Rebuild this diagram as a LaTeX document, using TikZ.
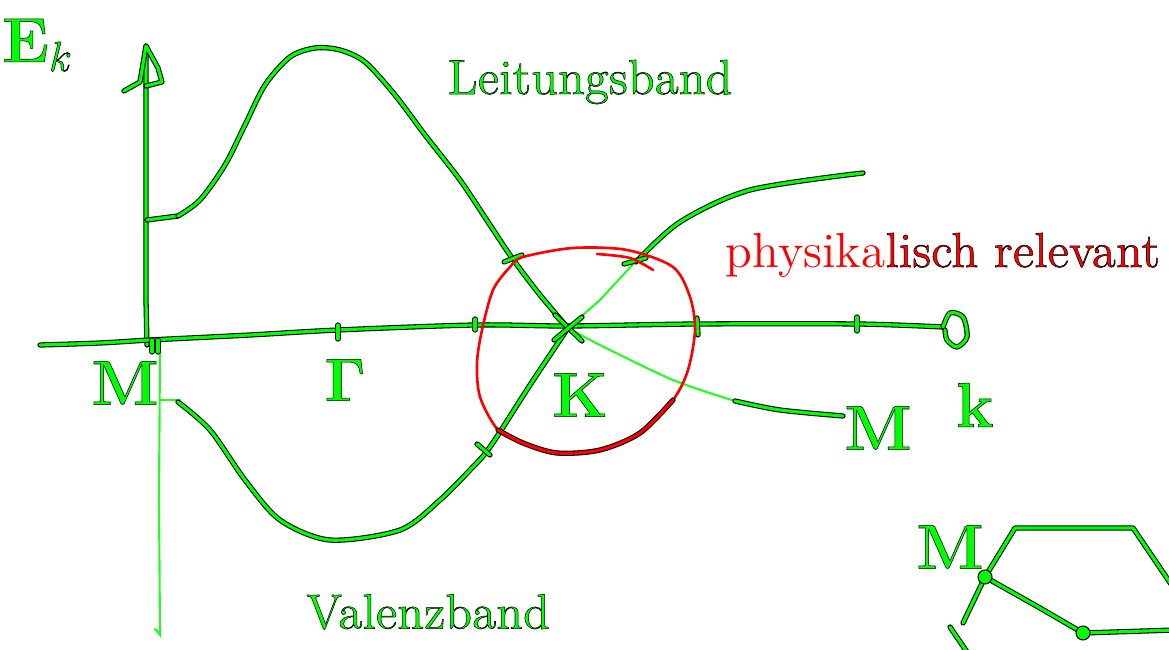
\documentclass[tikz,border=0pt]{standalone}

\definecolor{pen}{RGB}{0,255,0}
\definecolor{thinpen}{RGB}{40,250,40}
\definecolor{redpen}{RGB}{255,0,0}

% text with a black rim, as the pen draws it
\newcommand{\hand}[1]{\special{pdf:code 2 Tr 0 G 0.15 w}#1\special{pdf:code 0 Tr}}

\tikzset{
  band/.style={draw=black, double=pen, line width=0.3pt, double distance=0.9pt, line cap=round, line join=round},
  redband/.style={draw=black, double=redpen, line width=0.3pt, double distance=0.9pt, line cap=round},
  thinline/.style={draw=thinpen, line width=0.6pt, line cap=round},
  redline/.style={draw=redpen, line width=0.75pt, line cap=round},
  greenlabel/.style={text=pen, font=\bfseries\fontsize{18}{20}\selectfont, inner sep=0pt},
  wordlabel/.style={text=pen, font=\fontsize{14}{16}\selectfont, inner sep=0pt}
}

\begin{document}
\begin{tikzpicture}[x=0.1mm, y=-0.1mm]
  \useasboundingbox (0,0) rectangle (1169,650);

  \coordinate (kpt) at (568,328);

  % axes
  \draw[band] (147,345) -- (146,300) -- (146,46);
  \draw[band] (124,91) -- (140,82) -- (146,46) -- (158,68) -- (162,82) -- (146,86);
  \draw[band] plot[smooth] coordinates {(40,345) (100,343) (150,340) (250,335) (338,330)
    (475,325) (568,326) (697,324) (857,324) (943,327)};
  \draw[band] plot[smooth] coordinates {(943,327) (950,313) (963,317) (967,337) (957,347) (947,340) (945,330)};
  \draw[thinline] (160,345) -- (159,500) -- (160,635) -- (155,629);

  % ticks
  \draw[band] (152,340) -- (152,352);
  \draw[band] (158,340) -- (158,352);
  \draw[band] (338,325) -- (338,339);
  \draw[band] (475,319) -- (475,330);
  \draw[band] (697,318) -- (698,335);
  \draw[band] (857,317) -- (857,331);

  % Leitungsband
  \draw[band] (147,220) -- (178,216);
  \draw[band] plot[smooth] coordinates {(178,216) (200,200) (225,165) (245,125) (265,85)
    (290,57) (315,48) (340,50) (365,62) (395,95) (425,135) (460,180) (490,225) (512,258)
    (540,295) (kpt)};
  \draw[thinline] (kpt) -- (600,300) -- (635,262);
  \draw[band] plot[smooth] coordinates {(636,262) (680,222) (750,190) (863,173)};

  % Valenzband
  \draw[thinline] (160,400) -- (180,400);
  \draw[band] plot[smooth] coordinates {(178,402) (210,430) (245,480) (280,520) (330,540)
    (400,530) (440,500) (470,470) (490,447) (530,385) (kpt)};
  \draw[thinline] plot[smooth] coordinates {(kpt) (600,345) (673,380) (735,401)};
  \draw[band] plot[smooth] coordinates {(735,401) (780,410) (843,416)};

  % marks
  \draw[band] (555,315) -- (582,341);
  \draw[band] (554,340) -- (582,317);
  \draw[band] (504,262) -- (522,255);
  \draw[band] (624,264) -- (646,258);
  \draw[band] (477,444) -- (490,455);

  % physikalisch relevant
  \draw[redline] plot[smooth cycle] coordinates {(523,257) (573,248) (627,250) (673,267)
    (690,297) (695,330) (688,370) (673,400) (640,433) (600,450) (557,453) (523,443)
    (498,430) (480,397) (477,363) (482,330) (493,290) (510,267)};
  \draw[redline] plot[smooth] coordinates {(597,254) (630,258) (653,270)};
  \draw[redband] plot[smooth] coordinates {(498,430) (523,443) (557,453) (600,450) (640,433) (673,400)};

  % Brillouin-Zone
  \draw[band] (963,623) -- (985,577) -- (1015,528) -- (1133,528) -- (1175,590);
  \draw[band] (985,577) -- (1040,608) -- (1083,633) -- (1175,630);
  \draw[band] (950,627) -- (967,652);
  \fill[pen, draw=black, line width=0.3pt] (985,577) circle (7);
  \fill[pen, draw=black, line width=0.3pt] (1083,633) circle (7);

  % labels
  \node[greenlabel] (ek) at (38,45) {\hand{E$_k$}};
  \node[wordlabel] (leitung) at (590,82) {\hand{Leitungsband}};
  \node[wordlabel] (valenz) at (428,612) {\hand{Valenzband}};
  \node[wordlabel, text=redpen] (phys) at (943,255) {physika\hand{lisch relevant}};
  \node[greenlabel] (lblMl) at (125,383) {\hand{M}};
  \node[greenlabel] (lblG) at (345,380) {\hand{$\mathbf{\Gamma}$}};
  \node[greenlabel] (lblK) at (580,395) {\hand{K}};
  \node[greenlabel] (lblMr) at (878,428) {\hand{M}};
  \node[greenlabel] (lblk) at (975,405) {\hand{k}};
  \node[greenlabel] (lblMbz) at (950,547) {\hand{M}};
\end{tikzpicture}
\end{document}
